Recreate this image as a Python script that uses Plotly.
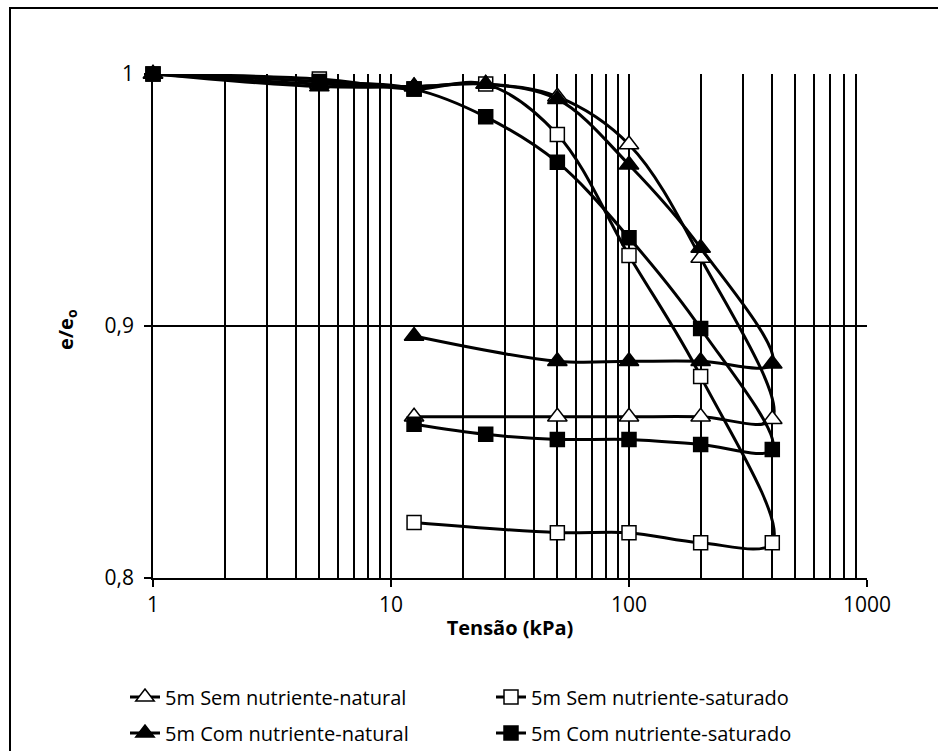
import plotly.graph_objects as go

# Stress path: loading up to 400 kPa, then unloading
tensao_carga = [1, 5, 12.5, 25, 50, 100, 200, 400]

# 5m Sem nutriente-natural
sem_nat_x = tensao_carga + [200, 100, 50, 12.5]
sem_nat_y = [1.000, 0.996, 0.995, 0.996, 0.991, 0.972, 0.927, 0.863,
             0.864, 0.864, 0.864, 0.864]

# 5m Sem nutriente-saturado
sem_sat_x = tensao_carga + [200, 100, 50, 12.5]
sem_sat_y = [1.000, 0.998, 0.994, 0.996, 0.976, 0.928, 0.880, 0.814,
             0.814, 0.818, 0.818, 0.822]

# 5m Com nutriente-natural
com_nat_x = tensao_carga + [200, 100, 50, 12.5]
com_nat_y = [1.000, 0.995, 0.995, 0.996, 0.990, 0.964, 0.931, 0.885,
             0.886, 0.886, 0.886, 0.896]

# 5m Com nutriente-saturado
com_sat_x = tensao_carga + [200, 100, 50, 25, 12.5]
com_sat_y = [1.000, 0.997, 0.994, 0.983, 0.965, 0.935, 0.899, 0.851,
             0.853, 0.855, 0.855, 0.857, 0.861]

x_ticks = [1, 10, 100, 1000]
x_tick_text = ["1", "10", "100", "1000"]
y_ticks = [0.8, 0.9, 1.0]
y_tick_text = ["0,8", "0,9", "1"]

FONT = "Open Sans"
W, H = 938, 751
L, R, T, B = 153, 71, 74, 173
PW, PH = W - L - R, H - T - B


def px_x(p):
    return (p - L) / PW


def px_y(p):
    return (H - B - p) / PH


fig = go.Figure()

series = [
    ("5m Sem nutriente-natural", sem_nat_x, sem_nat_y, "triangle-up", "white", 17, "legend"),
    ("5m Sem nutriente-saturado", sem_sat_x, sem_sat_y, "square", "white", 14, "legend"),
    ("5m Com nutriente-natural", com_nat_x, com_nat_y, "triangle-up", "black", 17, "legend2"),
    ("5m Com nutriente-saturado", com_sat_x, com_sat_y, "square", "black", 14, "legend2"),
]

for name, xs, ys, sym, fill, size, leg in series:
    fig.add_trace(go.Scatter(
        x=xs, y=ys, name=name, mode="lines+markers",
        line=dict(color="black", width=3, shape="spline", smoothing=1),
        marker=dict(symbol=sym, size=size, color=fill,
                    line=dict(color="black", width=1.5)),
        legend=leg, cliponaxis=False,
    ))

minor_vals = [m * 10 ** d for d in range(3) for m in range(2, 10)]

fig.update_xaxes(
    type="log", range=[0, 3],
    tickvals=x_ticks, ticktext=x_tick_text,
    showgrid=True, gridcolor="black", gridwidth=1.5,
    minor=dict(tickvals=minor_vals, showgrid=True, gridcolor="black",
               gridwidth=1.5, ticks=""),
    showline=True, linecolor="black", linewidth=1.5,
    ticks="outside", ticklen=7, tickcolor="black", tickwidth=1.5,
    tickfont=dict(family=FONT, size=21, color="black"),
    title=dict(text="<b>Tensão (kPa)</b>", standoff=4,
               font=dict(family=FONT, size=20, color="black")),
    zeroline=False,
)
fig.update_yaxes(
    range=[0.8, 1.0],
    tickvals=y_ticks, ticktext=y_tick_text,
    showgrid=True, gridcolor="black", gridwidth=1.5,
    showline=True, linecolor="black", linewidth=1.5,
    ticks="outside", ticklen=7, tickcolor="black", tickwidth=1.5,
    tickfont=dict(family=FONT, size=21, color="black"),
    ticklabelstandoff=6,
    zeroline=False,
)

fig.add_annotation(
    text="<b>e/e<sub>o</sub></b>", textangle=-90,
    xref="paper", yref="paper", x=px_x(66), y=px_y(330),
    xanchor="center", yanchor="middle", showarrow=False,
    font=dict(family=FONT, size=20, color="black"),
)

# Outer chart frame
fig.add_shape(
    type="rect", xref="paper", yref="paper",
    x0=px_x(10), x1=px_x(960), y0=px_y(8), y1=px_y(780),
    line=dict(color="black", width=2), fillcolor="rgba(0,0,0,0)",
    layer="below",
)

legend_style = dict(
    orientation="h", xanchor="left", yanchor="middle",
    entrywidth=321, entrywidthmode="pixels",
    font=dict(family=FONT, size=20, color="black"),
    bgcolor="rgba(0,0,0,0)", itemwidth=30, tracegroupgap=0,
)

fig.update_layout(
    width=W, height=H,
    margin=dict(l=L, r=R, t=T, b=B, autoexpand=False),
    paper_bgcolor="white", plot_bgcolor="white",
    showlegend=True,
    legend=dict(x=px_x(125), y=px_y(697), **legend_style),
    legend2=dict(x=px_x(125), y=px_y(733), **legend_style),
)

fig.write_html("out.html")
